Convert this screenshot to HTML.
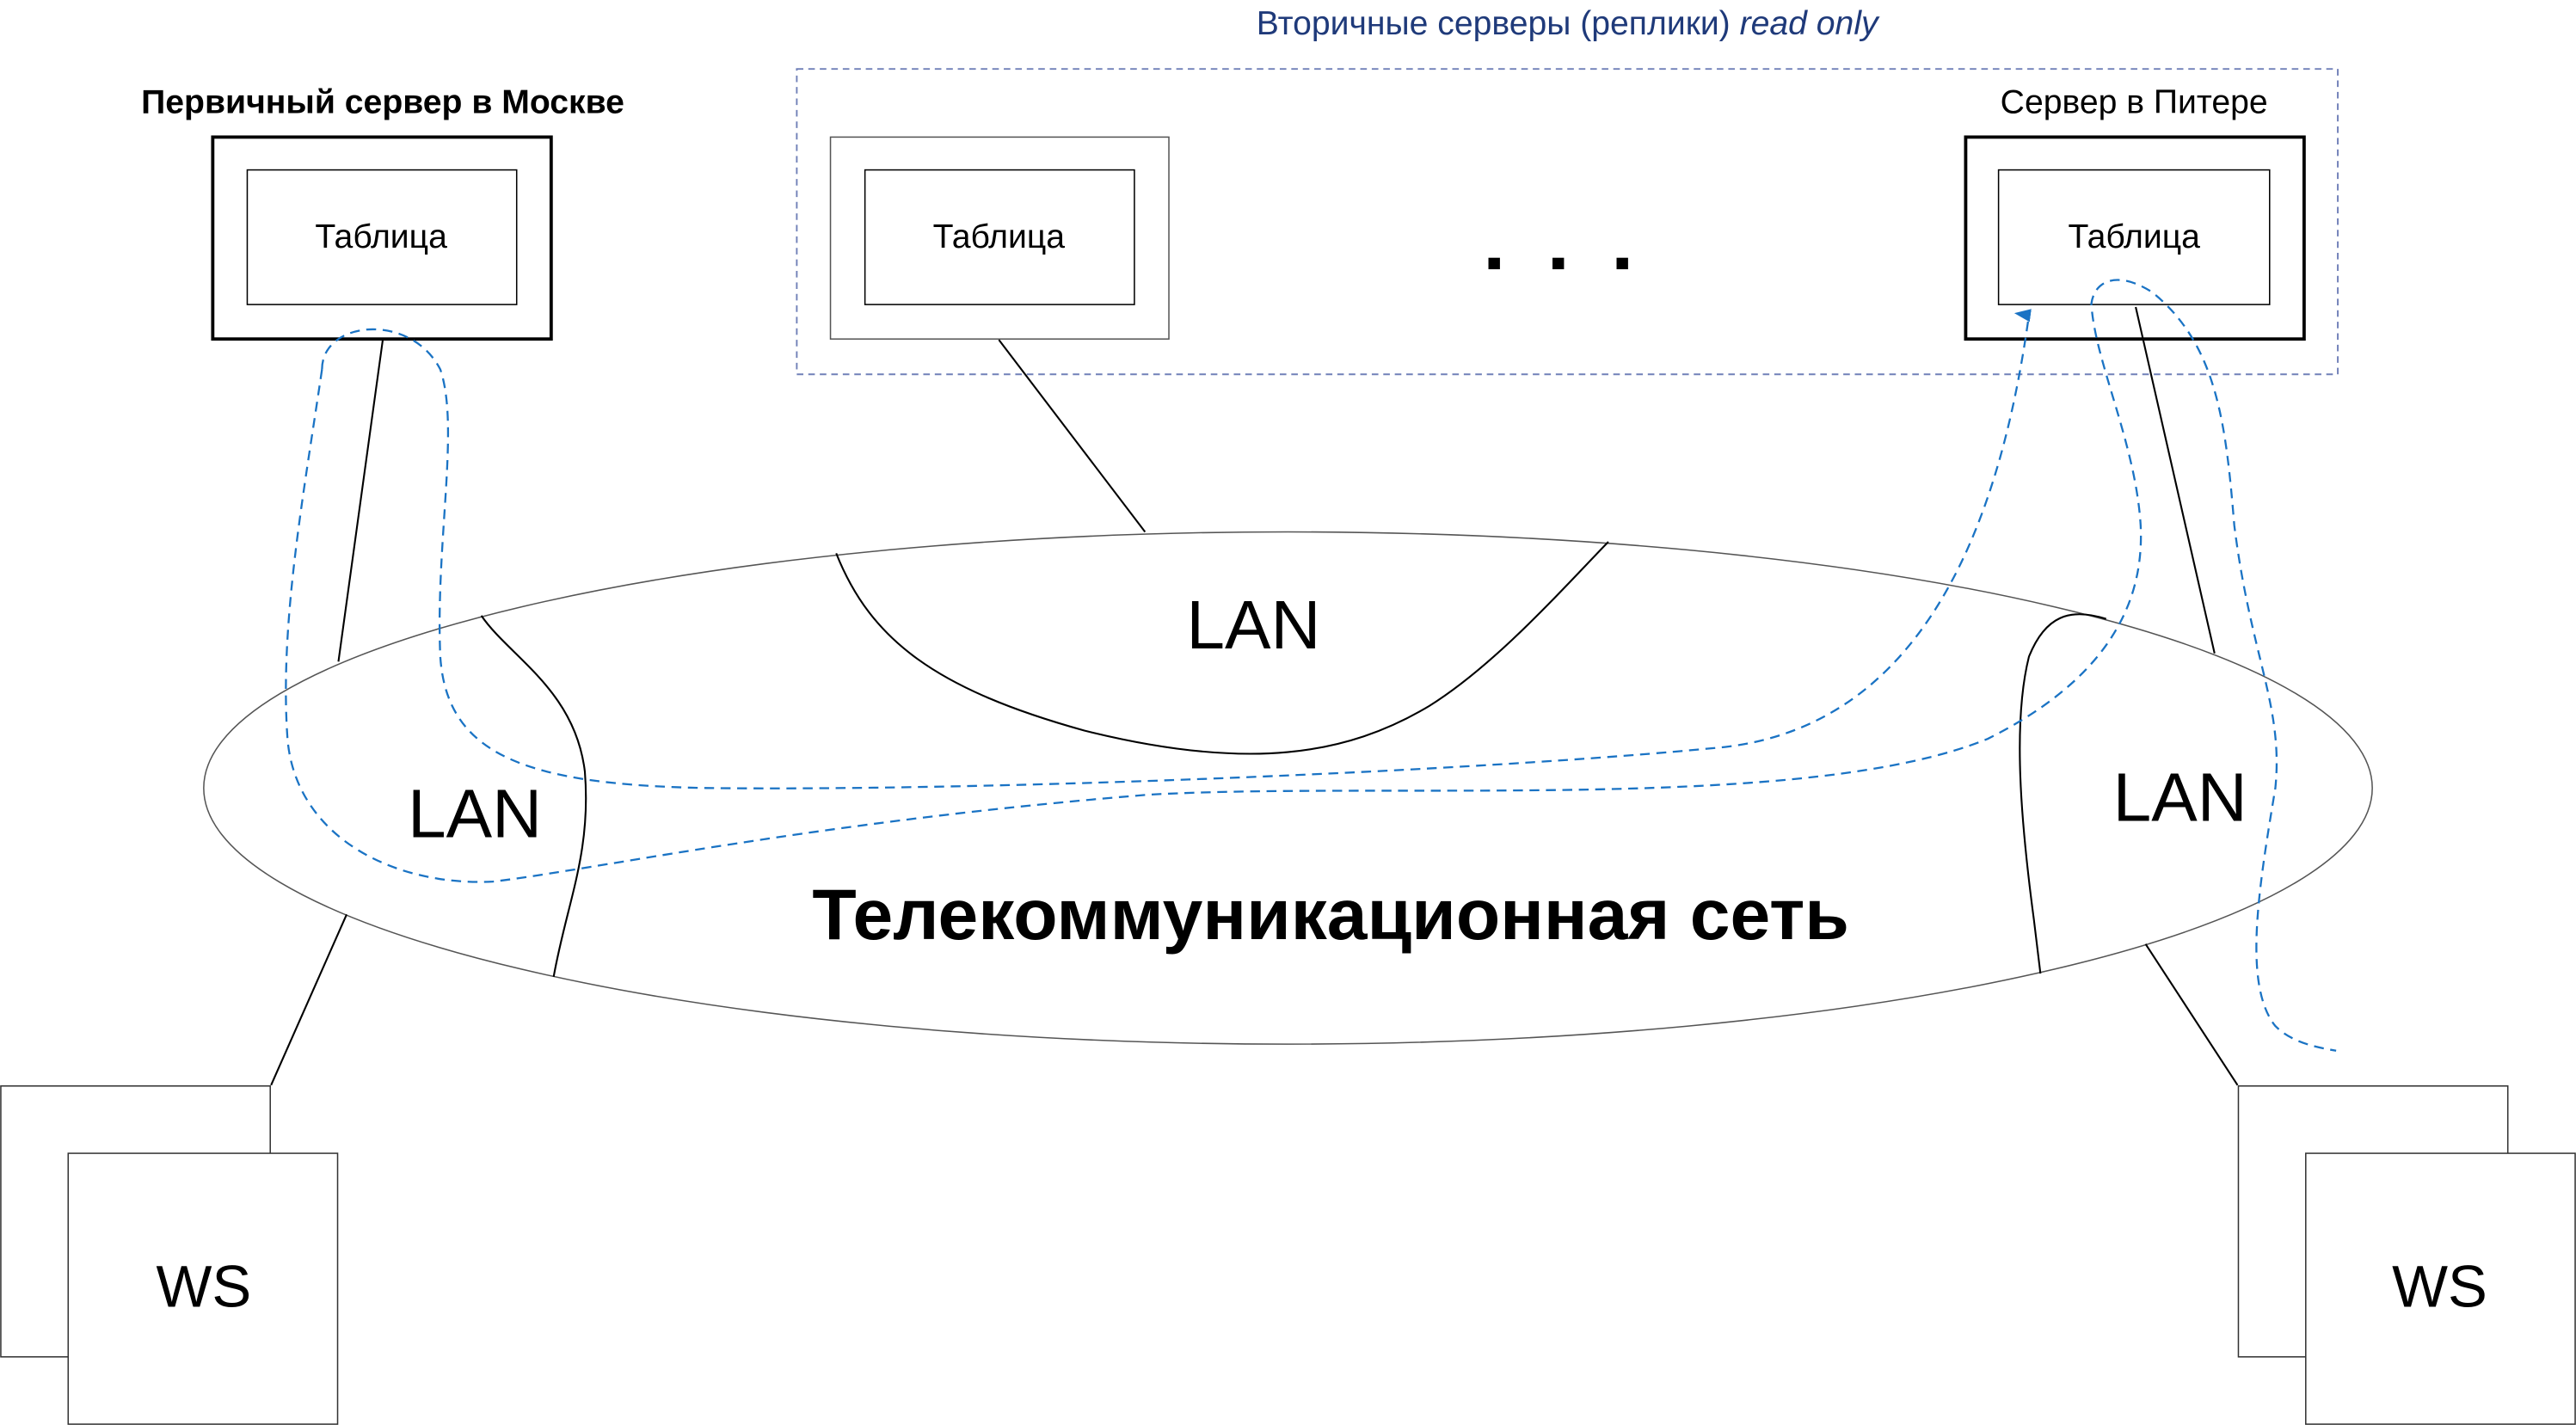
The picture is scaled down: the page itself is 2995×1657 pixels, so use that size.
<!DOCTYPE html>
<html><head><meta charset="utf-8"><style>html,body{margin:0;padding:0;background:#fff}svg{display:block}</style></head>
<body>
<svg width="2995" height="1657" viewBox="0 0 1568 868" preserveAspectRatio="none" xmlns="http://www.w3.org/2000/svg" font-family="'Liberation Sans', 'Noto Sans CJK SC', sans-serif">
<defs><marker id="ar" markerWidth="8" markerHeight="10" refX="4" refY="9" orient="auto" markerUnits="userSpaceOnUse" viewBox="0 0 8 10"><path d="M0,10 L4,0 L8,10 Z" fill="#1a73c4"/></marker></defs>
<rect x="485" y="42" width="938" height="186" fill="none" stroke="#7080b8" stroke-width="1" stroke-dasharray="4,3"/>
<text x="954" y="21" font-size="20.5" fill="#1f3a7a" text-anchor="middle">Вторичные серверы (реплики) <tspan font-style="italic">read only</tspan></text>
<text x="233" y="69" font-size="20.5" font-weight="bold" text-anchor="middle">Первичный сервер в Москве</text>
<text x="1299" y="69" font-size="20.5" text-anchor="middle">Сервер в Питере</text>
<rect x="129.5" y="83.5" width="206" height="123" fill="none" stroke="#000" stroke-width="2"/>
<rect x="150.5" y="103.5" width="164" height="82" fill="none" stroke="#000" stroke-width="0.8"/>
<text x="232" y="151" font-size="20.5" text-anchor="middle">Таблица</text>
<rect x="505.5" y="83.5" width="206" height="123" fill="none" stroke="#555" stroke-width="0.8"/>
<rect x="526.5" y="103.5" width="164" height="82" fill="none" stroke="#000" stroke-width="0.8"/>
<text x="608" y="151" font-size="20.5" text-anchor="middle">Таблица</text>
<rect x="1196.5" y="83.5" width="206" height="123" fill="none" stroke="#000" stroke-width="2"/>
<rect x="1216.5" y="103.5" width="165" height="82" fill="none" stroke="#000" stroke-width="0.8"/>
<text x="1299" y="151" font-size="20.5" text-anchor="middle">Таблица</text>
<rect x="906" y="157" width="7" height="7" fill="#000"/><rect x="945" y="157" width="7" height="7" fill="#000"/><rect x="984" y="157" width="7" height="7" fill="#000"/>
<ellipse cx="784" cy="480" rx="660" ry="156" fill="none" stroke="#555" stroke-width="0.8"/>
<g stroke="#000" stroke-width="1.1" fill="none">
<line x1="233" y1="207" x2="206" y2="403"/>
<line x1="608" y1="207" x2="697" y2="324"/>
<line x1="1300" y1="187" x2="1348" y2="398"/>
<line x1="211" y1="557" x2="165" y2="661"/>
<line x1="1306" y1="575" x2="1362" y2="661"/>
<path d="M293,375 C310,400 350,420 356,470 C360,520 345,550 337,595"/>
<path d="M509,337 C530,390 570,420 660,445 C760,470 820,460 870,430 C910,405 950,360 979,330"/>
<path d="M1282,377 C1260,370 1245,375 1235,400 C1225,440 1230,500 1238,560 L1242,593"/>
</g>
<text x="763" y="395" font-size="42" text-anchor="middle">LAN</text>
<text x="289" y="510" font-size="42" text-anchor="middle">LAN</text>
<text x="1327" y="500" font-size="42" text-anchor="middle">LAN</text>
<text x="810" y="572" font-size="44" font-weight="bold" text-anchor="middle">Телекоммуникационная сеть</text>
<g stroke="#1a73c4" stroke-width="1.2" fill="none" stroke-dasharray="6,4">
<path d="M196,225 C196,195 250,190 268,225 C280,260 265,330 268,400 C272,460 320,478 430,480 C600,482 900,470 1050,455 C1180,440 1220,300 1235,192" marker-end="url(#ar)"/>
<path d="M196,225 C185,300 170,380 175,450 C180,510 240,540 300,537 C360,530 500,500 700,484 C850,476 1100,495 1210,450 C1290,410 1305,360 1303,320 C1300,270 1275,220 1273,185 C1275,170 1290,165 1310,178 C1350,210 1355,260 1360,320 C1370,400 1390,430 1385,480 C1375,540 1365,600 1385,625 C1395,635 1410,638 1422,640"/>
</g>
<g fill="#fff" stroke="#333" stroke-width="0.8">
<rect x="0.5" y="661.5" width="164" height="165"/>
<rect x="41.5" y="702.5" width="164" height="165"/>
<rect x="1362.5" y="661.5" width="164" height="165"/>
<rect x="1403.5" y="702.5" width="164" height="165"/>
</g>
<text x="124" y="796" font-size="36" text-anchor="middle">WS</text>
<text x="1485" y="796" font-size="36" text-anchor="middle">WS</text>
</svg>
</body></html>
